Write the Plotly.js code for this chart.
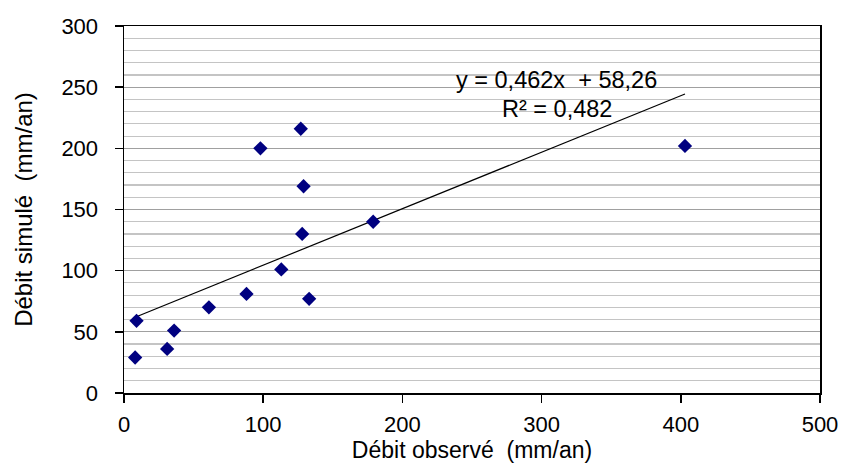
<!DOCTYPE html>
<html>
<head>
<meta charset="utf-8">
<script src="https://cdn.plot.ly/plotly-3.0.1.min.js"></script>
<style>html,body{margin:0;padding:0;background:#fff;}#chart{width:841px;height:464px;}</style>
</head>
<body>
<div id="chart"></div>
<script>
const debitObserve = [127, 98, 129, 128, 113, 88, 133, 61, 9, 36, 31, 8, 179, 403];
const debitSimule  = [216, 200, 169, 130, 101, 81, 77, 70, 59, 51, 36, 29, 140, 202];
const trendSlope = 0.462;
const trendIntercept = 58.26;
const equationText = "y = 0,462x  + 58,26";
const r2Text = "R² = 0,482";
const xTickVals = [0, 100, 200, 300, 400, 500];
const yTickVals = [0, 50, 100, 150, 200, 250, 300];

const xMin = Math.min(...debitObserve), xMax = Math.max(...debitObserve);
const trendX = [xMin, xMax];
const trendY = trendX.map(x => trendSlope * x + trendIntercept);

const font = 'Liberation Sans, Arial, sans-serif';
const data = [
  {x: trendX, y: trendY, mode: 'lines', type: 'scatter',
   line: {color: '#000000', width: 1.2}, hoverinfo: 'skip'},
  {x: debitObserve, y: debitSimule, mode: 'markers', type: 'scatter',
   marker: {symbol: 'diamond', size: 11, color: '#000080'}}
];
const layout = {
  width: 841, height: 464,
  margin: {l: 124, r: 21, t: 26, b: 71, pad: 0},
  paper_bgcolor: '#ffffff', plot_bgcolor: '#ffffff',
  showlegend: false,
  font: {family: font, color: '#000000', size: 22},
  xaxis: {
    range: [0, 500], tickvals: xTickVals, ticktext: xTickVals.map(String),
    showgrid: false, zeroline: false,
    showline: true, linecolor: '#000000', linewidth: 1.5, mirror: true,
    ticks: 'outside', ticklen: 8, tickcolor: '#000000', tickwidth: 1.5,
    ticklabelstandoff: 3,
    tickfont: {family: font, size: 22, color: '#000000'},
    title: {text: 'Débit observé  (mm/an)', font: {family: font, size: 23, color: '#000000'}, standoff: 4}
  },
  yaxis: {
    range: [0, 300], tickvals: yTickVals, ticktext: yTickVals.map(String),
    showgrid: true, gridcolor: '#a0a0a0', gridwidth: 1.2,
    minor: {dtick: 10, showgrid: true, gridcolor: '#c4c4c4', gridwidth: 1.2, ticks: ''},
    zeroline: false,
    showline: true, linecolor: '#000000', linewidth: 1.5, mirror: true,
    ticks: 'outside', ticklen: 8, tickcolor: '#000000', tickwidth: 1.5,
    ticklabelstandoff: 12,
    tickfont: {family: font, size: 22, color: '#000000'},
    title: {text: 'Débit simulé  (mm/an)', font: {family: font, size: 24, color: '#000000'}, standoff: 22}
  },
  annotations: [
    {x: 311, y: 256, xref: 'x', yref: 'y', text: equationText, showarrow: false,
     font: {family: font, size: 23.5, color: '#000000'}},
    {x: 311, y: 232, xref: 'x', yref: 'y', text: r2Text, showarrow: false,
     font: {family: font, size: 23.5, color: '#000000'}}
  ]
};
Plotly.newPlot('chart', data, layout, {displayModeBar: false, staticPlot: true});
</script>
</body>
</html>
